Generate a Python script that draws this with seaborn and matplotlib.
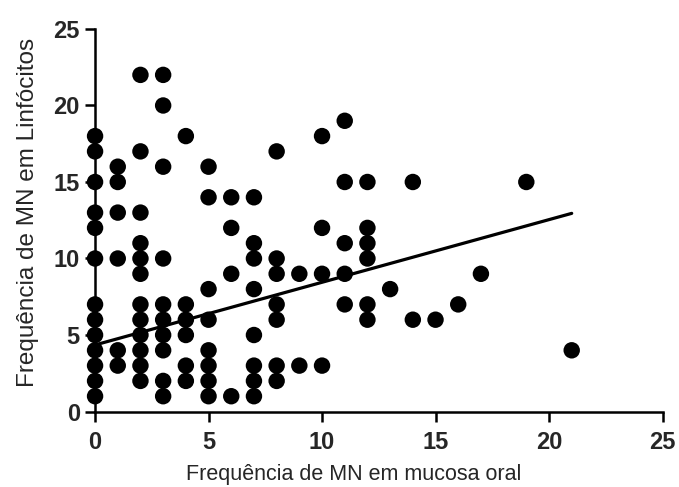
import matplotlib
matplotlib.use("Agg")
import matplotlib.pyplot as plt
import seaborn as sns
import pandas as pd

# Data: x value -> list of y values
x_vals = [0, 1, 2, 3, 4, 5, 6, 7, 8, 9, 10, 11, 12, 13, 14, 15, 16, 17, 19, 21]
y_groups = [
    [1, 2, 3, 4, 5, 6, 7, 10, 12, 13, 15, 17, 18],
    [3, 4, 10, 13, 15, 16],
    [2, 3, 4, 5, 6, 7, 9, 10, 11, 13, 17, 22],
    [1, 2, 4, 5, 6, 7, 10, 16, 20, 22],
    [2, 3, 5, 6, 7, 18],
    [1, 2, 3, 4, 6, 8, 14, 16],
    [1, 9, 12, 14],
    [1, 2, 3, 5, 8, 10, 11, 14],
    [2, 3, 6, 7, 9, 10, 17],
    [3, 9],
    [3, 9, 12, 18],
    [7, 9, 11, 15, 19],
    [6, 7, 10, 11, 12, 15],
    [8],
    [6, 15],
    [6],
    [7],
    [9],
    [15],
    [4],
]
# Fitted line as drawn in the chart (endpoints)
line_x = [0, 21]
line_y = [4.35, 12.95]

x_ticks = [0, 5, 10, 15, 20, 25]
y_ticks = [0, 5, 10, 15, 20, 25]
x_label = "Frequência de MN em mucosa oral"
y_label = "Frequência de MN em Linfócitos"

xs, ys = [], []
for xv, grp in zip(x_vals, y_groups):
    for yv in grp:
        xs.append(xv)
        ys.append(yv)
df = pd.DataFrame({"x": xs, "y": ys})
df_line = pd.DataFrame({"x": line_x, "y": line_y})

sns.set_style("ticks")
plt.rcParams["font.family"] = ["Liberation Sans", "DejaVu Sans"]

fig = plt.figure(figsize=(6.79, 4.87), dpi=100)
ax = fig.add_axes([0.140, 0.155, 0.8357, 0.7855])

sns.scatterplot(data=df, x="x", y="y", ax=ax, s=140, color="black",
                edgecolor="none", linewidth=0, alpha=1, clip_on=False, zorder=3)
sns.lineplot(data=df_line, x="x", y="y", ax=ax, color="black", lw=2.3, zorder=4)

ax.set_xlim(0, 25)
ax.set_ylim(0, 25)
ax.set_xticks(x_ticks)
ax.set_yticks(y_ticks)
ax.set_xticklabels([str(t) for t in x_ticks], fontweight="bold", fontsize=17)
ax.set_yticklabels([str(t) for t in y_ticks], fontweight="bold", fontsize=17)
ax.set_xlabel(x_label, fontsize=15.5)
ax.set_ylabel(y_label, fontsize=17.5)
ax.xaxis.set_label_coords(0.455, -0.137)
ax.yaxis.set_label_coords(-0.099, 0.5216)
for s in ["top", "right"]:
    ax.spines[s].set_visible(False)
for s in ["left", "bottom"]:
    ax.spines[s].set_linewidth(1.8)
    ax.spines[s].set_color("black")
ax.tick_params(axis="both", length=7, width=1.8, color="black", direction="out")
ax.tick_params(axis="x", pad=7)
ax.tick_params(axis="y", pad=4)

fig.savefig("out.png", dpi=100)
